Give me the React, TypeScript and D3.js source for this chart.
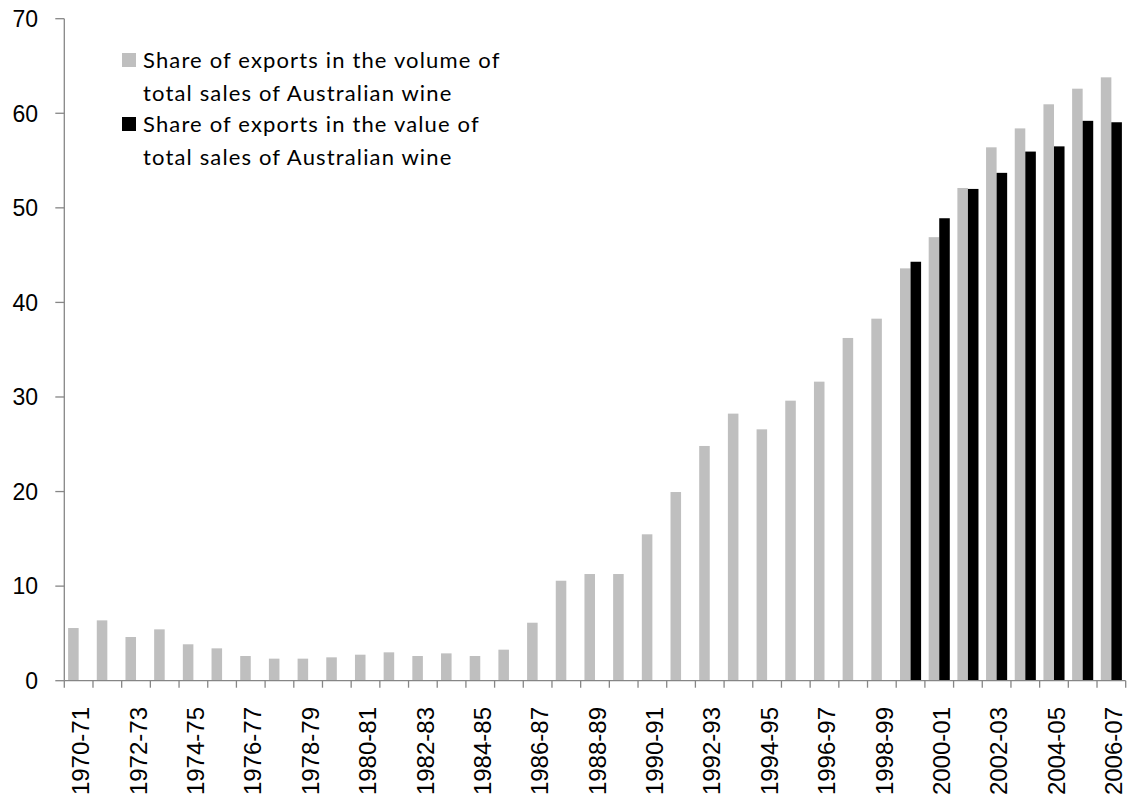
import React from "react";
import * as d3 from "d3";

const categories: string[] = [
  "1970-71", "1971-72", "1972-73", "1973-74", "1974-75", "1975-76", "1976-77", "1977-78",
  "1978-79", "1979-80", "1980-81", "1981-82", "1982-83", "1983-84", "1984-85", "1985-86",
  "1986-87", "1987-88", "1988-89", "1989-90", "1990-91", "1991-92", "1992-93", "1993-94",
  "1994-95", "1995-96", "1996-97", "1997-98", "1998-99", "1999-00", "2000-01", "2001-02",
  "2002-03", "2003-04", "2004-05", "2005-06", "2006-07",
];

const volumeShare: (number | null)[] = [
  5.57, 6.38, 4.62, 5.43, 3.85, 3.42, 2.61, 2.33, 2.33, 2.47, 2.75, 3.0, 2.61, 2.89, 2.61, 3.28,
  6.13, 10.57, 11.28, 11.28, 15.48, 19.95, 24.82, 28.24, 26.58, 29.61, 31.62, 36.24, 38.28,
  43.6, 46.9, 52.1, 56.4, 58.4, 60.95, 62.6, 63.8,
];

const valueShare: (number | null)[] = [
  null, null, null, null, null, null, null, null, null, null, null, null, null, null, null, null,
  null, null, null, null, null, null, null, null, null, null, null, null, null,
  44.3, 48.9, 52.0, 53.7, 55.95, 56.5, 59.2, 59.05,
];

const yTicks: number[] = [0, 10, 20, 30, 40, 50, 60, 70];

const seriesKeys = ["volume", "value"];
const seriesColors = ["#bfbfbf", "#000000"];
const legendLabels: string[][] = [
  ["Share of exports in the volume of", "total sales of Australian wine"],
  ["Share of exports in the value of", "total sales of Australian wine"],
];

export default function App() {
  const W = 1132;
  const H = 800;
  const left = 64.3;
  const right = 1125.7;
  const y0 = 680.7;
  const yTop = 18.7;

  const x0 = d3.scaleBand<string>().domain(categories).range([left, right]).padding(0);
  const x1 = d3
    .scaleBand<string>()
    .domain(seriesKeys)
    .range([0, x0.bandwidth()])
    .paddingInner(0)
    .paddingOuter(0.36);
  const y = d3.scaleLinear().domain([0, 70]).range([y0, yTop]);

  const axisColor = "#868686";
  const series = [volumeShare, valueShare];

  return (
    <svg
      width={W}
      height={H}
      style={{ position: "absolute", left: 0, top: 0, background: "#fff" }}
    >
      {/* bars */}
      {series.map((vals, si) =>
        vals.map((v, i) =>
          v == null ? null : (
            <rect
              key={`${si}-${i}`}
              x={(x0(categories[i]) as number) + (x1(seriesKeys[si]) as number)}
              y={y(v)}
              width={x1.bandwidth()}
              height={y0 - y(v)}
              fill={seriesColors[si]}
            />
          )
        )
      )}

      {/* y axis */}
      <line x1={left} x2={left} y1={yTop} y2={y0} stroke={axisColor} strokeWidth={1.3} />
      {yTicks.map((t) => (
        <g key={t}>
          <line x1={left - 9} x2={left} y1={y(t)} y2={y(t)} stroke={axisColor} strokeWidth={1.3} />
          <text
            x={38}
            y={y(t)}
            dy="0.36em"
            textAnchor="end"
            fontFamily="'Liberation Sans', Arial, sans-serif"
            fontSize={23}
            fill="#000"
          >
            {t}
          </text>
        </g>
      ))}

      {/* x axis */}
      <line x1={left} x2={right} y1={y0} y2={y0} stroke={axisColor} strokeWidth={1.3} />
      {categories.map((c, i) => (
        <line
          key={`t${i}`}
          x1={x0(c) as number}
          x2={x0(c) as number}
          y1={y0}
          y2={y0 + 7}
          stroke={axisColor}
          strokeWidth={1.3}
        />
      ))}
      <line x1={right} x2={right} y1={y0} y2={y0 + 7} stroke={axisColor} strokeWidth={1.3} />
      {categories.map((c, i) =>
        i % 2 === 0 ? (
          <text
            key={`l${i}`}
            transform={`translate(${(x0(c) as number) + x0.bandwidth() / 2 + 2}, 707) rotate(-90)`}
            dy="0.36em"
            textAnchor="end"
            fontFamily="'Liberation Sans', Arial, sans-serif"
            fontSize={24}
            fill="#000"
          >
            {c}
          </text>
        ) : null
      )}

      {/* legend */}
      {legendLabels.map((lines, li) => (
        <g key={`lg${li}`}>
          <rect x={122} y={53 + li * 64} width={14} height={14} fill={seriesColors[li]} />
          {lines.map((ln, k) => (
            <text
              key={k}
              x={143}
              y={68.3 + li * 64 + k * 32.5}
              fontFamily="Lato, 'Open Sans', sans-serif"
              fontSize={22}
              letterSpacing={1.15}
              fill="#000"
            >
              {ln}
            </text>
          ))}
        </g>
      ))}
    </svg>
  );
}
